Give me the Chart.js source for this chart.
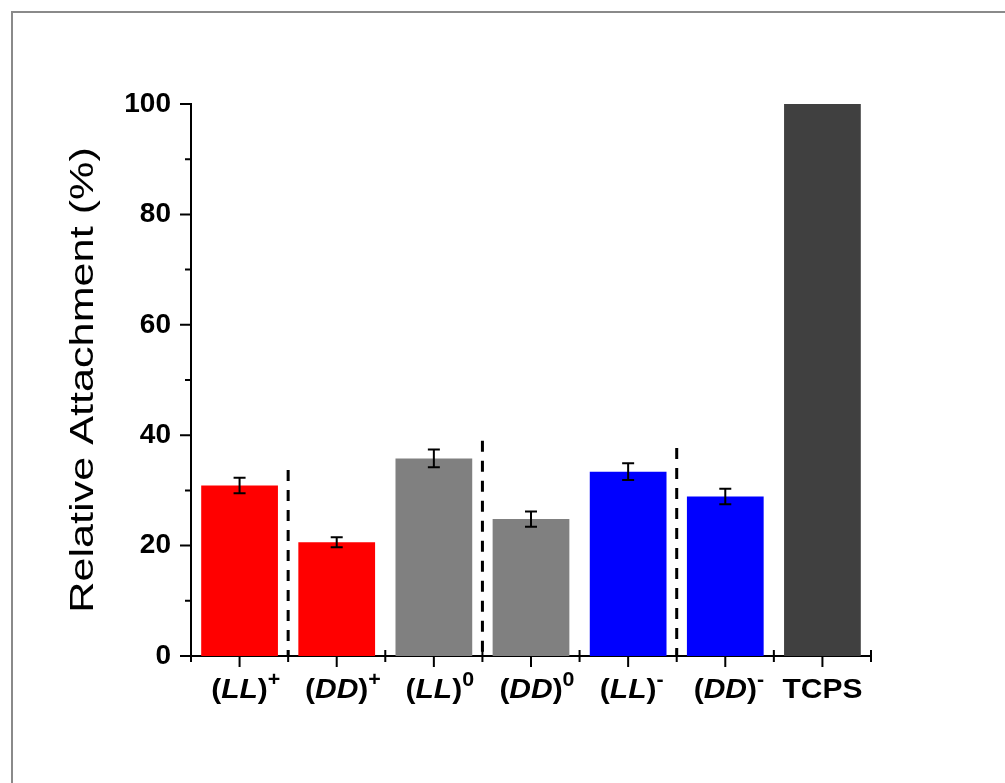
<!DOCTYPE html>
<html>
<head>
<meta charset="utf-8">
<script src="https://cdn.jsdelivr.net/npm/chart.js@4.4.0/dist/chart.umd.min.js"></script>
<style>
  body { margin: 0; background: #fff; }
  canvas { display: block; }
</style>
</head>
<body>
<canvas id="myChart" width="1005" height="783"></canvas>
<script>
// data
const categories = ['(LL)+', '(DD)+', '(LL)0', '(DD)0', '(LL)-', '(DD)-', 'TCPS'];
const attachment = [30.9, 20.6, 35.8, 24.8, 33.4, 28.9, 100];
const attachmentErr = [1.4, 0.9, 1.6, 1.4, 1.5, 1.4, 0];
const yMajorTicks = [0, 20, 40, 60, 80, 100];
const yMinorTicks = [10, 30, 50, 70, 90];
// dashed separators sit after these category indexes, up to these y values
const dividerAfter = [0, 2, 4];
const dividerTop = [33.7, 39, 37.7];
const yTitle = 'Relative Attachment (%)';

const FAM = '"Liberation Sans", Arial, sans-serif';

const extras = {
  id: 'extras',
  beforeDraw(chart) {
    const ctx = chart.ctx;
    ctx.save();
    ctx.fillStyle = '#fff';
    ctx.fillRect(0, 0, chart.width, chart.height);
    // frame top/left
    ctx.strokeStyle = '#8a8a8a';
    ctx.lineWidth = 2;
    ctx.beginPath();
    ctx.moveTo(12, chart.height);
    ctx.lineTo(12, 12);
    ctx.lineTo(chart.width, 12);
    ctx.stroke();
    ctx.restore();
  },
  afterDraw(chart) {
    const ctx = chart.ctx;
    const x = chart.scales.x, y = chart.scales.y;
    const area = chart.chartArea;
    const ax = area.left, ay = area.bottom;
    ctx.save();
    ctx.strokeStyle = '#000';

    // error bars
    ctx.lineWidth = 2;
    attachment.forEach((v, i) => {
      const e = attachmentErr[i];
      if (!e) return;
      const px = x.getPixelForValue(i);
      const t = y.getPixelForValue(v + e), b = y.getPixelForValue(v - e);
      ctx.beginPath();
      ctx.moveTo(px, t); ctx.lineTo(px, b);
      ctx.moveTo(px - 6, t); ctx.lineTo(px + 6, t);
      ctx.moveTo(px - 6, b); ctx.lineTo(px + 6, b);
      ctx.stroke();
    });

    // dashed group separators
    ctx.lineWidth = 3;
    ctx.setLineDash([11, 9]);
    dividerAfter.forEach((i, k) => {
      const px = (x.getPixelForValue(i) + x.getPixelForValue(i + 1)) / 2;
      ctx.beginPath();
      ctx.moveTo(px, y.getPixelForValue(dividerTop[k]));
      ctx.lineTo(px, y.getPixelForValue(0));
      ctx.stroke();
    });
    ctx.setLineDash([]);

    // tick marks
    ctx.lineWidth = 2;
    ctx.beginPath();
    yMajorTicks.forEach(v => {
      const py = y.getPixelForValue(v);
      ctx.moveTo(ax - 11, py); ctx.lineTo(ax, py);
    });
    yMinorTicks.forEach(v => {
      const py = y.getPixelForValue(v);
      ctx.moveTo(ax - 6, py); ctx.lineTo(ax, py);
    });
    categories.forEach((c, i) => {
      const px = x.getPixelForValue(i);
      ctx.moveTo(px, ay); ctx.lineTo(px, ay + 11);
    });
    for (let i = 0; i <= categories.length; i++) {
      const px = x.getPixelForValue(i - 0.5);
      ctx.moveTo(px, ay - 6); ctx.lineTo(px, ay + 6);
    }
    ctx.stroke();

    // y title (figure font is stretched along its length)
    ctx.fillStyle = '#000';
    ctx.save();
    ctx.translate(84, (area.top + area.bottom) / 2);
    ctx.rotate(-Math.PI / 2);
    ctx.scale(1.27, 1);
    ctx.font = '34px ' + FAM;
    ctx.textAlign = 'center';
    ctx.textBaseline = 'middle';
    ctx.fillText(yTitle, 0, 0);
    ctx.restore();

    // category labels with italic letters and superscript charge
    ctx.textBaseline = 'alphabetic';
    ctx.textAlign = 'left';
    const baseY = 698;
    const sx = 1.07;
    categories.forEach((lab, i) => {
      const m = lab.match(/^\((\w+)\)(.)$/);
      let segs;
      if (m) {
        segs = [
          { t: '(', f: 'bold 28px ' + FAM, dy: 0 },
          { t: m[1], f: 'italic bold 28px ' + FAM, dy: 0 },
          { t: ')', f: 'bold 28px ' + FAM, dy: 0 },
          { t: m[2], f: 'bold 20px ' + FAM, dy: -12, sup: true }
        ];
      } else {
        segs = [{ t: lab, f: 'bold 28px ' + FAM, dy: 0 }];
      }
      let w = 0;
      segs.forEach(s => {
        ctx.font = s.f;
        s.w = ctx.measureText(s.t).width;
        if (!s.sup) w += s.w;
      });
      ctx.save();
      ctx.translate(x.getPixelForValue(i), baseY);
      ctx.scale(sx, 1);
      let cx = -w / 2;
      segs.forEach(s => {
        ctx.font = s.f;
        ctx.fillText(s.t, cx, s.dy);
        cx += s.w;
      });
      ctx.restore();
    });
    ctx.restore();
  }
};

const options = {
  type: 'bar',
  data: {
    labels: categories,
    datasets: [{
      data: attachment,
      backgroundColor: ['#ff0000', '#ff0000', '#808080', '#808080', '#0000ff', '#0000ff', '#404040'],
      borderWidth: 0,
      barPercentage: 0.79,
      categoryPercentage: 1
    }]
  },
  options: {
    responsive: false,
    animation: false,
    layout: { padding: { left: 0, right: 134, top: 104, bottom: 0 } },
    plugins: {
      legend: { display: false },
      tooltip: { enabled: false }
    },
    scales: {
      x: {
        afterFit(s) { s.height = 127; },
        border: { display: true, color: '#000', width: 2 },
        grid: { display: false, drawTicks: false },
        ticks: { display: false }
      },
      y: {
        min: 0,
        max: 100,
        afterFit(s) { s.width = 191; },
        border: { display: true, color: '#000', width: 2 },
        grid: { display: false, drawTicks: false },
        ticks: {
          stepSize: 20,
          padding: 20,
          color: '#000',
          font: { family: FAM, size: 28, weight: 'bold' }
        }
      }
    }
  },
  plugins: [extras]
};

const ctx = document.getElementById('myChart').getContext('2d');
new Chart(ctx, options);
</script>
</body>
</html>
